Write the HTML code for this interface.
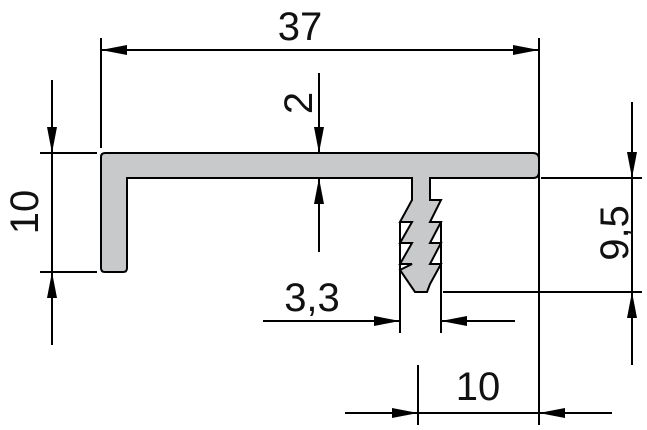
<!DOCTYPE html>
<html><head><style>body{margin:0;background:#fff}svg{display:block}text{font-family:"Liberation Sans",sans-serif;font-size:40px;fill:#111}</style></head>
<body>
<svg width="647" height="430" viewBox="0 0 647 430">
<defs>
<marker id="a" viewBox="0 0 26 10" refX="26" refY="5" markerWidth="26" markerHeight="10" markerUnits="userSpaceOnUse" orient="auto"><path d="M0,0L26,5L0,10z" fill="#000"/></marker>
</defs>
<g stroke="#000" stroke-width="2" fill="none">
<path d="M105,153 H533 Q539,153 539,159 V172 Q539,178 533,178 H430 V200 H441 L430,222 H441 L430,243 H441 L430,264 H441 L430,284 L427,292 H415 L400,270 L412,264 H400 L412,243 H400 L412,222 H400 L412,200 V178 H127 V268 Q127,272 123,272 H105 Q101,272 101,268 V157 Q101,153 105,153 Z" fill="#c8c9cb"/>
<line x1="101" y1="38" x2="101" y2="148"/>
<line x1="539" y1="38" x2="539" y2="425"/>
<line x1="40" y1="153" x2="97" y2="153"/>
<line x1="40" y1="272" x2="97" y2="272"/>
<line x1="400" y1="222" x2="400" y2="333"/>
<line x1="441" y1="222" x2="441" y2="333"/>
<line x1="541" y1="178" x2="642" y2="178"/>
<line x1="443" y1="292" x2="642" y2="292"/>
<line x1="418" y1="365" x2="418" y2="425"/>
<line x1="101" y1="50" x2="539" y2="50" marker-end="url(#a)"/>
<line x1="52" y1="80" x2="52" y2="153" marker-end="url(#a)"/>
<line x1="52" y1="345" x2="52" y2="272" marker-end="url(#a)"/>
<line x1="52" y1="153" x2="52" y2="272"/>
<line x1="319" y1="73" x2="319" y2="153" marker-end="url(#a)"/>
<line x1="319" y1="252" x2="319" y2="178" marker-end="url(#a)"/>
<line x1="263" y1="321" x2="400" y2="321" marker-end="url(#a)"/>
<line x1="515" y1="321" x2="441" y2="321" marker-end="url(#a)"/>
<line x1="632" y1="102" x2="632" y2="178" marker-end="url(#a)"/>
<line x1="632" y1="365" x2="632" y2="292" marker-end="url(#a)"/>
<line x1="632" y1="178" x2="632" y2="292"/>
<line x1="345" y1="413" x2="418" y2="413" marker-end="url(#a)"/>
<line x1="612" y1="413" x2="539" y2="413" marker-end="url(#a)"/>
<line x1="418" y1="413" x2="539" y2="413"/>
</g>
<path d="M101,50 L127,45 L127,55z" fill="#000"/>
<text x="300" y="40" text-anchor="middle">37</text>
<text transform="translate(38,212) rotate(-90)" text-anchor="middle">10</text>
<text transform="translate(312,103) rotate(-90)" text-anchor="middle">2</text>
<text x="312" y="311" text-anchor="middle">3,3</text>
<text transform="translate(628,233) rotate(-90)" text-anchor="middle">9,5</text>
<text x="478" y="400" text-anchor="middle">10</text>
</svg>
</body></html>
